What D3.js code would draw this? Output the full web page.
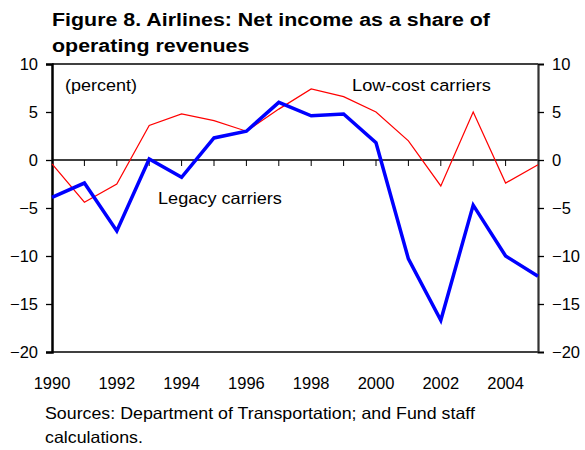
<!DOCTYPE html>
<html>
<head>
<meta charset="utf-8">
<script src="https://cdn.jsdelivr.net/npm/d3@7"></script>
<style>
  html, body { margin: 0; padding: 0; background: #fff; }
  svg { display: block; font-family: Arial, "Liberation Sans", sans-serif; }
</style>
</head>
<body>
<svg id="chart" width="585" height="450"></svg>
<script>
// Net income as a share of operating revenues, percent
const years = [1990, 1991, 1992, 1993, 1994, 1995, 1996, 1997, 1998, 1999, 2000, 2001, 2002, 2003, 2004, 2005];
const legacy = [-3.9, -2.4, -7.4, 0.1, -1.8, 2.3, 3.0, 6.0, 4.6, 4.8, 1.8, -10.3, -16.7, -4.7, -10.0, -12.1];
const lowCost = [-0.4, -4.4, -2.5, 3.6, 4.8, 4.1, 3.0, 5.3, 7.4, 6.6, 5.0, 2.0, -2.7, 5.0, -2.4, -0.5];
const yTicks = [10, 5, 0, -5, -10, -15, -20];
const xLabelYears = [1990, 1992, 1994, 1996, 1998, 2000, 2002, 2004];

const svg = d3.select("#chart");
const plotLeft = 52, plotRight = 538, plotTop = 64, plotBottom = 352;

const x = d3.scaleLinear().domain([1990, 2005]).range([plotLeft, plotRight]);
const y = d3.scaleLinear().domain([-20, 10]).range([plotBottom, plotTop]);

// Text helper: places a label and widens its glyphs horizontally by factor k
function label(px, py, str, size, k, weight) {
  return svg.append("text")
    .attr("transform", `translate(${px},${py}) scale(${k},1)`)
    .attr("font-size", size)
    .attr("font-weight", weight || "normal")
    .attr("fill", "#000")
    .text(str);
}
// Widen a group of lines so that the first one spans the given width
function fitLines(nodes, width) {
  const k = width / nodes[0].node().getComputedTextLength();
  nodes.forEach(n => {
    const t = n.attr("transform").replace(/scale\([^)]*\)/, `scale(${k},1)`);
    n.attr("transform", t);
  });
}

// Title
const t1 = label(52, 26, "Figure 8. Airlines: Net income as a share of", 18.5, 1, "bold");
const t2 = label(52, 52, "operating revenues", 18.5, 1, "bold");
fitLines([t1, t2], 438);

// Frame: top and bottom lines
svg.append("line").attr("x1", plotLeft).attr("x2", plotRight).attr("y1", plotTop).attr("y2", plotTop)
  .attr("stroke", "#000").attr("stroke-width", 1.3);
svg.append("line").attr("x1", plotLeft).attr("x2", plotRight).attr("y1", plotBottom).attr("y2", plotBottom)
  .attr("stroke", "#000").attr("stroke-width", 1.3);

// Zero line with year ticks
svg.append("line").attr("x1", plotLeft).attr("x2", plotRight).attr("y1", y(0)).attr("y2", y(0))
  .attr("stroke", "#000").attr("stroke-width", 1.3);
svg.append("g").selectAll("line").data(years.slice(1, -1)).join("line")
  .attr("x1", d => x(d)).attr("x2", d => x(d))
  .attr("y1", y(0)).attr("y2", y(0) + 6)
  .attr("stroke", "#000").attr("stroke-width", 1);

// Left axis
const leftAxis = d3.axisLeft(y).tickValues(yTicks).tickSize(6).tickPadding(8).tickFormat(d3.format("d"));
const gl = svg.append("g").attr("transform", `translate(${plotLeft},0)`).call(leftAxis);
gl.select(".domain").attr("stroke", "#000").attr("stroke-width", 2.5);
gl.selectAll(".tick line").attr("stroke", "#000").attr("stroke-width", 1.3);
gl.selectAll(".tick text").attr("font-size", 16.5).attr("fill", "#000").attr("dy", "0.36em")
  .attr("font-family", "Arial, 'Liberation Sans', sans-serif");

// Right axis
const rightAxis = d3.axisRight(y).tickValues(yTicks).tickSize(6).tickPadding(8).tickFormat(d3.format("d"));
const gr = svg.append("g").attr("transform", `translate(${plotRight},0)`).call(rightAxis);
gr.select(".domain").attr("stroke", "#333").attr("stroke-width", 2.2);
gr.selectAll(".tick line").attr("stroke", "#000").attr("stroke-width", 1.3);
gr.selectAll(".tick text").attr("font-size", 16.5).attr("fill", "#000").attr("dy", "0.36em")
  .attr("font-family", "Arial, 'Liberation Sans', sans-serif");

// Year labels
svg.append("g").selectAll("text").data(xLabelYears).join("text")
  .attr("x", d => x(d)).attr("y", 389)
  .attr("text-anchor", "middle").attr("font-size", 16.5)
  .text(d => d);

// Series
const line = d3.line().x((d, i) => x(years[i])).y(d => y(d));
svg.append("path").datum(lowCost).attr("d", line)
  .attr("fill", "none").attr("stroke", "#ff0000").attr("stroke-width", 1.2);
svg.append("path").datum(legacy).attr("d", line)
  .attr("fill", "none").attr("stroke", "#0000ff").attr("stroke-width", 3.5)
  .attr("stroke-linejoin", "miter");

// Annotations
fitLines([label(65, 91, "(percent)", 16.5, 1)], 72);
fitLines([label(352, 91, "Low-cost carriers", 16.5, 1)], 139);
fitLines([label(158, 204, "Legacy carriers", 16.5, 1)], 124);

// Source note
const s1 = label(45, 419, "Sources: Department of Transportation; and Fund staff", 16.5, 1);
const s2 = label(45, 443, "calculations.", 16.5, 1);
fitLines([s1, s2], 430);
</script>
</body>
</html>
